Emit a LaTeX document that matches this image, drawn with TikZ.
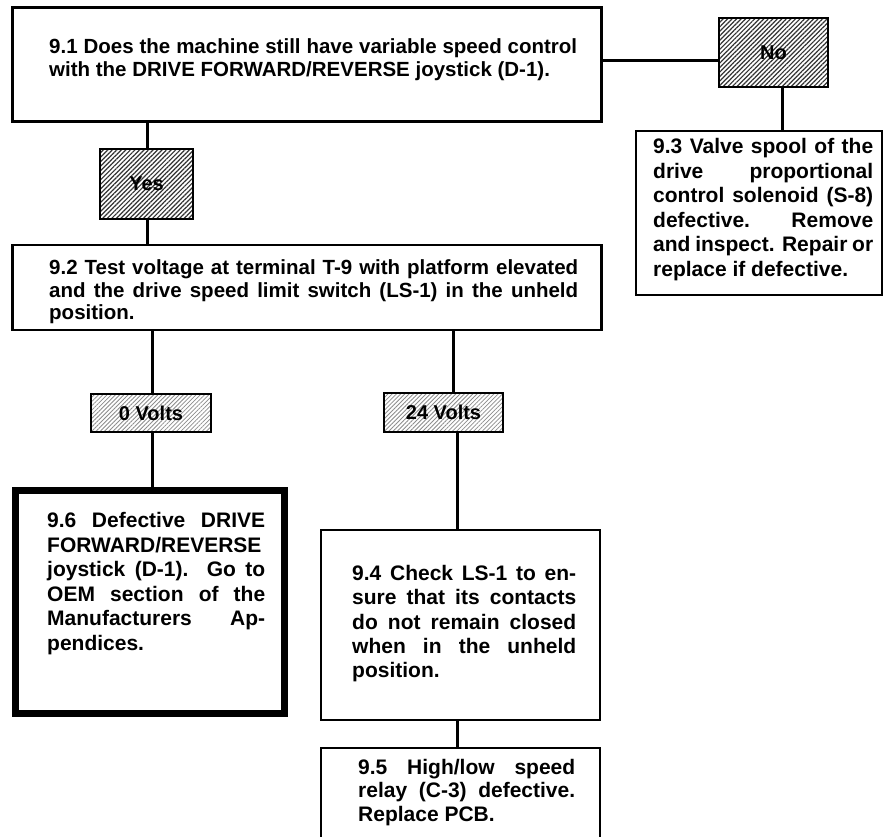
\documentclass[tikz,border=0pt]{standalone}
\usepackage{fontspec}
\setmainfont{Liberation Sans}
\usetikzlibrary{patterns.meta}
% one justified line of a given width
\newcommand{\jl}[2]{\makebox[#1][s]{#2}}
\begin{document}
\begin{tikzpicture}[x=1pt,y=-1pt,
  box/.style={draw, line width=2.4pt, rectangle, inner sep=0pt},
  heavybox/.style={draw, line width=7pt, rectangle, inner sep=0pt},
  tag/.style={draw, line width=2.2pt, rectangle, inner sep=0pt,
    font=\bfseries\fontsize{20}{24}\selectfont},
  darkhatch/.style={pattern={Lines[angle=45,distance=3.2pt,line width=1.2pt]},
    pattern color=black!80},
  lighthatch/.style={pattern={Lines[angle=45,distance=3pt,line width=0.8pt]},
    pattern color=black!45},
  wire/.style={line width=3pt},
  txt/.style={anchor=north west, inner sep=0pt, align=left},
  narrow/.style={font=\bfseries\fontsize{21}{24.6}\selectfont}
]
\useasboundingbox (0,0) rectangle (883,837);
\fill[white] (0,0) rectangle (883,837);
\clip (0,0) rectangle (883,837);

% ---- boxes -------------------------------------------------------------
\node[box, minimum width=589, minimum height=114] (b91) at (307,64.5) {};
\node[box, minimum width=589, minimum height=85]  (b92) at (307,287.5) {};
\node[box, minimum width=246, minimum height=164] (b93) at (759,213) {};
\node[heavybox, minimum width=269, minimum height=223] (b96) at (150,602) {};
\node[box, minimum width=279, minimum height=190] (b94) at (460.5,625) {};
\node[box, minimum width=279, minimum height=130] (b95) at (460.5,813) {};

% ---- decision tags -----------------------------------------------------
\node[tag, darkhatch, minimum width=109, minimum height=69] (no) at (773.5,52.5) {No};
\node[tag, darkhatch, minimum width=93, minimum height=70] (yes) at (146.5,184) {Yes};
\node[tag, lighthatch, minimum width=120, minimum height=38] (v0) at (151,413) {0 Volts};
\node[tag, lighthatch, minimum width=119, minimum height=39] (v24) at (443.5,412.5) {24 Volts};

% ---- connector columns ---------------------------------------------------
\coordinate (rowno) at (660,61);
\coordinate (colno) at (782,100);
\coordinate (colyes) at (147,100);
\coordinate (col0) at (152,300);
\coordinate (col24a) at (453,300);
\coordinate (col24b) at (457,300);

\draw[wire] (b91.east |- rowno) -- (no.west |- rowno);
\draw[wire] (no.south -| colno) -- (b93.north -| colno);
\draw[wire] (b91.south -| colyes) -- (yes.north -| colyes);
\draw[wire] (yes.south -| colyes) -- (b92.north -| colyes);
\draw[wire] (b92.south -| col0) -- (v0.north -| col0);
\draw[wire] (v0.south -| col0) -- (b96.north -| col0);
\draw[wire] (b92.south -| col24a) -- (v24.north -| col24a);
\draw[wire] (v24.south -| col24b) -- (b94.north -| col24b);
\draw[wire] (b94.south -| col24b) -- (b95.north -| col24b);

% ---- texts -------------------------------------------------------------
\node[txt, font=\bfseries\fontsize{20.5}{23}\selectfont] (t91) at (49,38.5)
  {\jl{528pt}{9.1 Does the machine still have variable speed control}\\
   with the DRIVE FORWARD/REVERSE joystick (D-1).};
\node[txt, font=\bfseries\fontsize{20.5}{22.5}\selectfont] (t92) at (49,259.5)
  {\jl{529pt}{9.2 Test voltage at terminal T-9 with platform elevated}\\
   \jl{529pt}{and the drive speed limit switch (LS-1) in the unheld}\\
   position.};
\node[txt, narrow] (t93) at (653,138)
  {\jl{220pt}{9.3 Valve spool of the}\\
   \jl{220pt}{drive proportional}\\
   \jl{220pt}{control solenoid (S-8)}\\
   \jl{220pt}{defective. Remove}\\
   \jl{220pt}{and inspect. Repair or}\\
   replace if defective.};
\node[txt, narrow] (t96) at (47,512)
  {\jl{218pt}{9.6 Defective DRIVE}\\
   FORWARD/REVERSE\\
   \jl{218pt}{joystick (D-1). Go to}\\
   \jl{218pt}{OEM section of the}\\
   \jl{218pt}{Manufacturers Ap-}\\
   pendices.};
\node[txt, narrow, font=\bfseries\fontsize{21}{24.3}\selectfont] (t94) at (352,565)
  {\jl{224pt}{9.4 Check LS-1 to en-}\\
   \jl{224pt}{sure that its contacts}\\
   \jl{224pt}{do not remain closed}\\
   \jl{224pt}{when in the unheld}\\
   position.};
\node[txt, narrow, font=\bfseries\fontsize{21}{23.5}\selectfont] (t95) at (358,759)
  {\jl{217pt}{9.5 High/low speed}\\
   \jl{217pt}{relay (C-3) defective.}\\
   Replace PCB.};
\end{tikzpicture}
\end{document}
